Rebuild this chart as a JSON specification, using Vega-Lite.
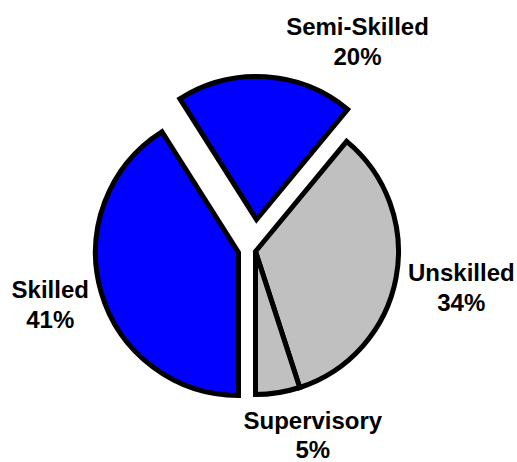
{
  "$schema": "https://vega.github.io/schema/vega-lite/v6.json",
  "width": 517,
  "height": 462,
  "autosize": {"type": "fit", "contains": "padding"},
  "padding": {"left": 0, "top": 36, "right": 5, "bottom": 0},
  "background": "white",
  "view": {"stroke": null},
  "data": {
    "values": [
      {"category": "Semi-Skilled", "percent": 20, "rank": 1},
      {"category": "Unskilled", "percent": 34, "rank": 2},
      {"category": "Supervisory", "percent": 5, "rank": 3},
      {"category": "Skilled", "percent": 41, "rank": 4}
    ]
  },
  "transform": [
    {"stack": "percent", "groupby": [], "sort": [{"field": "rank", "order": "ascending"}], "as": ["start", "end"]}
  ],
  "encoding": {
    "theta": {"field": "start", "type": "quantitative", "stack": null, "scale": {"domain": [0, 100], "range": [-0.5655, 5.7177]}}
  },
  "layer": [
    {
      "transform": [{"filter": "datum.category === 'Unskilled' || datum.category === 'Supervisory'"}],
      "mark": {"type": "arc", "outerRadius": 143, "stroke": "black", "strokeWidth": 5, "strokeJoin": "miter"},
      "encoding": {
        "theta2": {"field": "end"},
        "color": {"field": "category", "type": "nominal", "legend": null, "scale": {"domain": ["Semi-Skilled", "Unskilled", "Supervisory", "Skilled"], "range": ["#0000FF", "#C0C0C0", "#C0C0C0", "#0000FF"]}}
      }
    },
    {
      "transform": [{"filter": "datum.category === 'Semi-Skilled'"}],
      "mark": {"type": "arc", "outerRadius": 143, "stroke": "black", "strokeWidth": 5, "strokeJoin": "miter", "xOffset": 1, "yOffset": -32},
      "encoding": {
        "theta2": {"field": "end"},
        "color": {"field": "category", "type": "nominal", "legend": null}
      }
    },
    {
      "transform": [{"filter": "datum.category === 'Skilled'"}],
      "mark": {"type": "arc", "outerRadius": 143, "stroke": "black", "strokeWidth": 5, "strokeJoin": "miter", "xOffset": -17, "yOffset": 1},
      "encoding": {
        "theta2": {"field": "end"},
        "color": {"field": "category", "type": "nominal", "legend": null}
      }
    },
    {
      "transform": [{"filter": "datum.category === 'Semi-Skilled'"}],
      "mark": {"type": "text", "radius": 246, "thetaOffset": 0.993, "text": {"expr": "[datum.category, datum.percent + '%']"}, "font": "Liberation Sans", "fontWeight": "bold", "fontSize": 24, "lineHeight": 30, "align": "center", "baseline": "middle", "color": "black"},
      "encoding": {}
    },
    {
      "transform": [{"filter": "datum.category === 'Unskilled'"}],
      "mark": {"type": "text", "radius": 207, "thetaOffset": 0.988, "text": {"expr": "[datum.category, datum.percent + '%']"}, "font": "Liberation Sans", "fontWeight": "bold", "fontSize": 24, "lineHeight": 30, "align": "center", "baseline": "middle", "color": "black"},
      "encoding": {}
    },
    {
      "transform": [{"filter": "datum.category === 'Supervisory'"}],
      "mark": {"type": "text", "radius": 179.5, "thetaOffset": -0.011, "text": {"expr": "[datum.category, datum.percent + '%']"}, "font": "Liberation Sans", "fontWeight": "bold", "fontSize": 24, "lineHeight": 29, "align": "center", "baseline": "middle", "color": "black"},
      "encoding": {}
    },
    {
      "transform": [{"filter": "datum.category === 'Skilled'"}],
      "mark": {"type": "text", "radius": 209, "thetaOffset": 1.381, "text": {"expr": "[datum.category, datum.percent + '%']"}, "font": "Liberation Sans", "fontWeight": "bold", "fontSize": 24, "lineHeight": 30, "align": "center", "baseline": "middle", "color": "black"},
      "encoding": {}
    }
  ]
}
